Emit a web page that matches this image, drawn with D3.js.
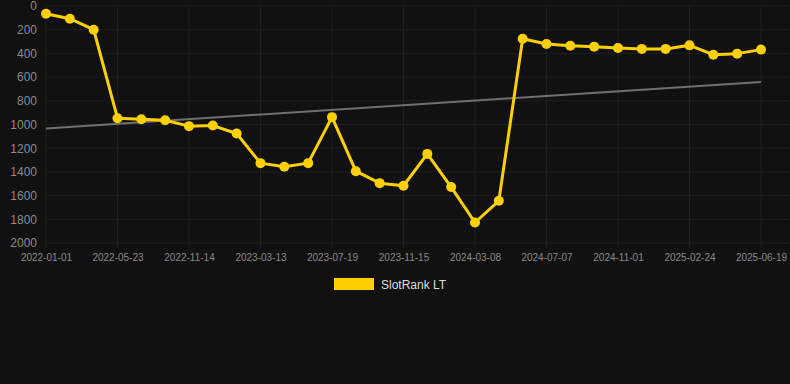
<!DOCTYPE html>
<html>
<head>
<meta charset="utf-8">
<script src="https://cdn.jsdelivr.net/npm/d3@7"></script>
<style>
  html, body { margin: 0; padding: 0; background: #111111; }
  svg { display: block; font-family: "Liberation Sans", Arial, sans-serif; }
</style>
</head>
<body>
<div id="chart"></div>
<script>
// categories (one per sample), only every third one is labelled
var dates = [
  "2022-01-01", "", "", "2022-05-23", "", "", "2022-11-14", "", "", "2023-03-13", "", "",
  "2023-07-19", "", "", "2023-11-15", "", "", "2024-03-08", "", "", "2024-07-07", "", "",
  "2024-11-01", "", "", "2025-02-24", "", "", "2025-06-19"
]
var rankValues = [
  65, 107, 200, 947, 955, 964, 1014, 1009, 1076, 1326, 1357, 1326,
  938, 1394, 1495, 1517, 1248, 1528, 1827, 1644, 276, 320, 335, 343,
  354, 362, 362, 332, 411, 402, 368
]
var trendValues = [1033, 641]
var yTicks = [0, 200, 400, 600, 800, 1000, 1200, 1400, 1600, 1800, 2000]
var seriesName = "SlotRank LT"

var width = 790, height = 384
var margin = { top: 6, right: 29, bottom: 141, left: 46 }
var w = width - margin.left - margin.right
var h = height - margin.top - margin.bottom

var svg = d3.select("#chart").append("svg")
  .attr("width", width)
  .attr("height", height)

var x = d3.scalePoint()
  .domain(d3.range(dates.length))
  .range([0, w])

var y = d3.scaleLinear()
  .domain([0, 2000])
  .range([0, h])

var g = svg.append("g")
  .attr("transform", "translate(" + margin.left + "," + margin.top + ")")

// horizontal grid
g.append("g")
  .selectAll("line")
  .data(yTicks)
  .enter().append("line")
    .attr("x1", 0)
    .attr("x2", width - margin.left)
    .attr("y1", function(d) { return y(d) })
    .attr("y2", function(d) { return y(d) })
    .attr("stroke", "#1f1f1f")
    .attr("stroke-width", 1)

// vertical grid at labelled categories
var labelled = d3.range(dates.length).filter(function(i) { return dates[i] !== "" })
g.append("g")
  .selectAll("line")
  .data(labelled)
  .enter().append("line")
    .attr("x1", function(d) { return x(d) })
    .attr("x2", function(d) { return x(d) })
    .attr("y1", 0)
    .attr("y2", h + 5)
    .attr("stroke", "#1f1f1f")
    .attr("stroke-width", 1)

// y axis labels
var yAxis = g.append("g")
  .call(d3.axisLeft(y).tickValues(yTicks).tickSize(0).tickPadding(9)
    .tickFormat(d3.format("d")))
yAxis.select(".domain").remove()
yAxis.selectAll("text")
  .attr("fill", "#8a8a8a")
  .style("font-size", "12px")

// x axis labels
var xAxis = g.append("g")
  .attr("transform", "translate(0," + h + ")")
  .call(d3.axisBottom(x).tickValues(labelled).tickSize(0).tickPadding(11)
    .tickFormat(function(i) { return dates[i] }))
xAxis.select(".domain").remove()
xAxis.selectAll("text")
  .attr("fill", "#8a8a8a")
  .style("font-size", "10px")

// trend line
g.append("line")
  .attr("x1", x(0))
  .attr("x2", x(dates.length - 1))
  .attr("y1", y(trendValues[0]))
  .attr("y2", y(trendValues[1]))
  .attr("stroke", "#707070")
  .attr("stroke-width", 2)

// series line
var line = d3.line()
  .x(function(d, i) { return x(i) })
  .y(function(d) { return y(d) })

g.append("path")
  .datum(rankValues)
  .attr("d", line)
  .attr("fill", "none")
  .attr("stroke", "#ffd000")
  .attr("stroke-width", 3)
  .attr("stroke-linejoin", "round")

g.append("g")
  .selectAll("circle")
  .data(rankValues)
  .enter().append("circle")
    .attr("cx", function(d, i) { return x(i) })
    .attr("cy", function(d) { return y(d) })
    .attr("r", 5)
    .attr("fill", "#ffd000")

// legend
var legend = svg.append("g").attr("transform", "translate(334,278)")
legend.append("rect")
  .attr("width", 40)
  .attr("height", 12)
  .attr("fill", "#ffd000")
legend.append("text")
  .attr("x", 47)
  .attr("y", 10.5)
  .attr("fill", "#dddddd")
  .style("font-size", "12px")
  .text(seriesName)
</script>
</body>
</html>
